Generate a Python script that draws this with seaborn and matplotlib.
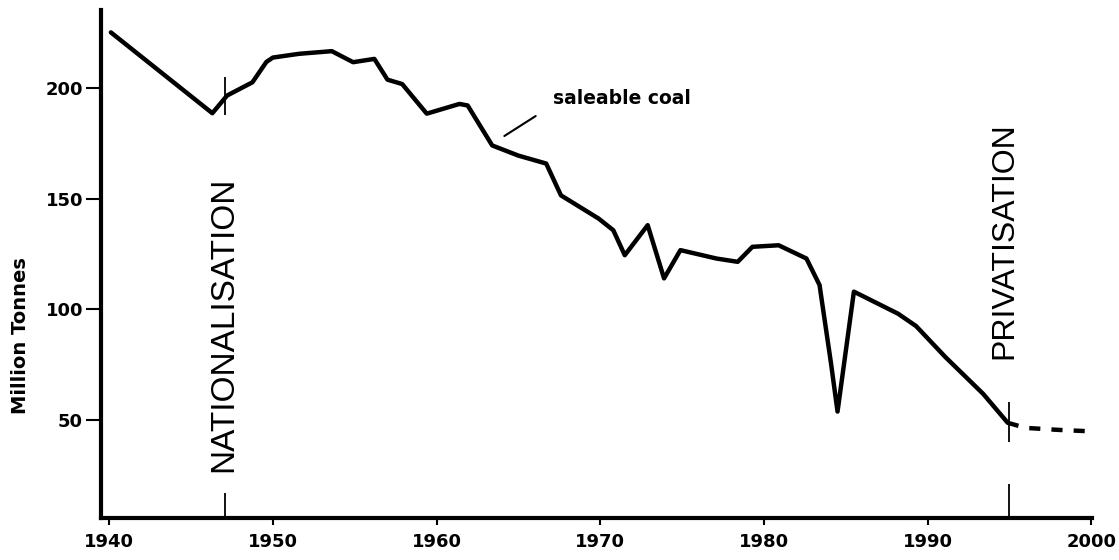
import numpy as np
import pandas as pd
import matplotlib
matplotlib.use("Agg")
import matplotlib.pyplot as plt
import seaborn as sns

# -----------------------------------------------------
# DATA
# -----------------------------------------------------

years = [1940.1, 1946.3, 1947.2, 1948.75, 1949.6, 1950.0, 1951.6, 1953.6,
         1954.9, 1956.2, 1957.0, 1957.9, 1959.4, 1961.4, 1961.9, 1963.4,
         1965.0, 1966.7, 1967.6, 1969.9, 1970.8, 1971.5, 1972.9, 1973.9,
         1974.9, 1977.1, 1978.4, 1979.3, 1980.9, 1982.6, 1983.4, 1984.1,
         1984.5, 1985.5, 1988.2, 1989.3, 1991.1, 1993.4, 1994.9]
saleable = [225.4, 188.8, 196.8, 202.8, 212.0, 214.0, 215.7, 216.9,
            211.9, 213.4, 204.0, 202.0, 188.6, 193.0, 192.3, 174.2,
            169.6, 166.0, 151.6, 141.1, 135.8, 124.5, 138.1, 114.0,
            126.8, 123.0, 121.5, 128.3, 129.0, 123.0, 111.0, 75.6,
            53.7, 108.0, 98.0, 92.4, 78.3, 61.7, 48.6]

# projection after privatisation (dashed)
proj_years = [1994.9, 1996.0, 1998.0, 2000.1]
proj_values = [48.6, 46.3, 45.4, 44.7]

events = ["NATIONALISATION", "PRIVATISATION"]
event_years = [1947.1, 1995.0]

x_ticks = [1940, 1950, 1960, 1970, 1980, 1990, 2000]
y_ticks = [50, 100, 150, 200]

# -----------------------------------------------------
# PLOT
# -----------------------------------------------------

sns.set_style("white")
plt.rcParams['font.family'] = ['DejaVu Sans']
plt.rcParams['text.color'] = 'black'
plt.rcParams['xtick.color'] = 'black'
plt.rcParams['ytick.color'] = 'black'

fig = plt.figure(figsize=(11.19, 5.6), dpi=100)
ax = fig.add_axes([0.0903, 0.075, 0.8856, 0.907])

df = pd.DataFrame({'Year': years, 'Output': saleable})
sns.lineplot(data=df, x='Year', y='Output', color='black', linewidth=3.2,
             estimator=None, sort=False, ax=ax)
sns.lineplot(x=proj_years, y=proj_values, color='black', linewidth=3.2,
             linestyle=(0, (2.5, 2.5)), estimator=None, ax=ax)

ax.set_xlim(1939.5, 2000.05)
ax.set_ylim(5.5, 235.5)

# event markers: short line across the curve and a tick on the axis
ax.vlines(event_years[0], 188, 205, color='black', linewidth=1.3)
ax.vlines(event_years[0], 5.5, 17, color='black', linewidth=1.3)
ax.vlines(event_years[1], 40, 58, color='black', linewidth=1.3)
ax.vlines(event_years[1], 5.5, 21, color='black', linewidth=1.3)

ax.text(event_years[0] - 0.1, 93, events[0], rotation=90, ha='center',
        va='center', fontsize=24, family=['Liberation Sans'], color='black')
ax.text(event_years[1] - 0.3, 131, events[1], rotation=90, ha='center',
        va='center', fontsize=23, family=['Liberation Sans'], color='black')

# label with a leader line
ax.text(1967.1, 195.5, "saleable coal", fontsize=13.5, fontweight='bold',
        ha='left', va='center', color='black')
ax.annotate("", xy=(1964.0, 177.8), xytext=(1966.2, 188.2),
            arrowprops=dict(arrowstyle='-', color='black', linewidth=1.5))

# axes styling
for side in ['top', 'right']:
    ax.spines[side].set_visible(False)
for side in ['left', 'bottom']:
    ax.spines[side].set_linewidth(3)
    ax.spines[side].set_color('black')

ax.set_xticks(x_ticks)
ax.set_yticks(y_ticks)
ax.tick_params(axis='y', direction='out', length=11, width=1.5, pad=2,
               labelsize=13, left=True)
ax.tick_params(axis='x', direction='out', length=5, width=1.5, pad=6,
               labelsize=13, bottom=True)
for lab in ax.get_xticklabels() + ax.get_yticklabels():
    lab.set_fontweight('bold')

ax.set_xlabel("")
ax.set_ylabel("")
fig.text(0.018, 0.40, "Million Tonnes", rotation=90, ha='center',
         va='center', fontsize=14, fontweight='bold', color='black')

plt.savefig("out.png", dpi=100)
plt.close()
